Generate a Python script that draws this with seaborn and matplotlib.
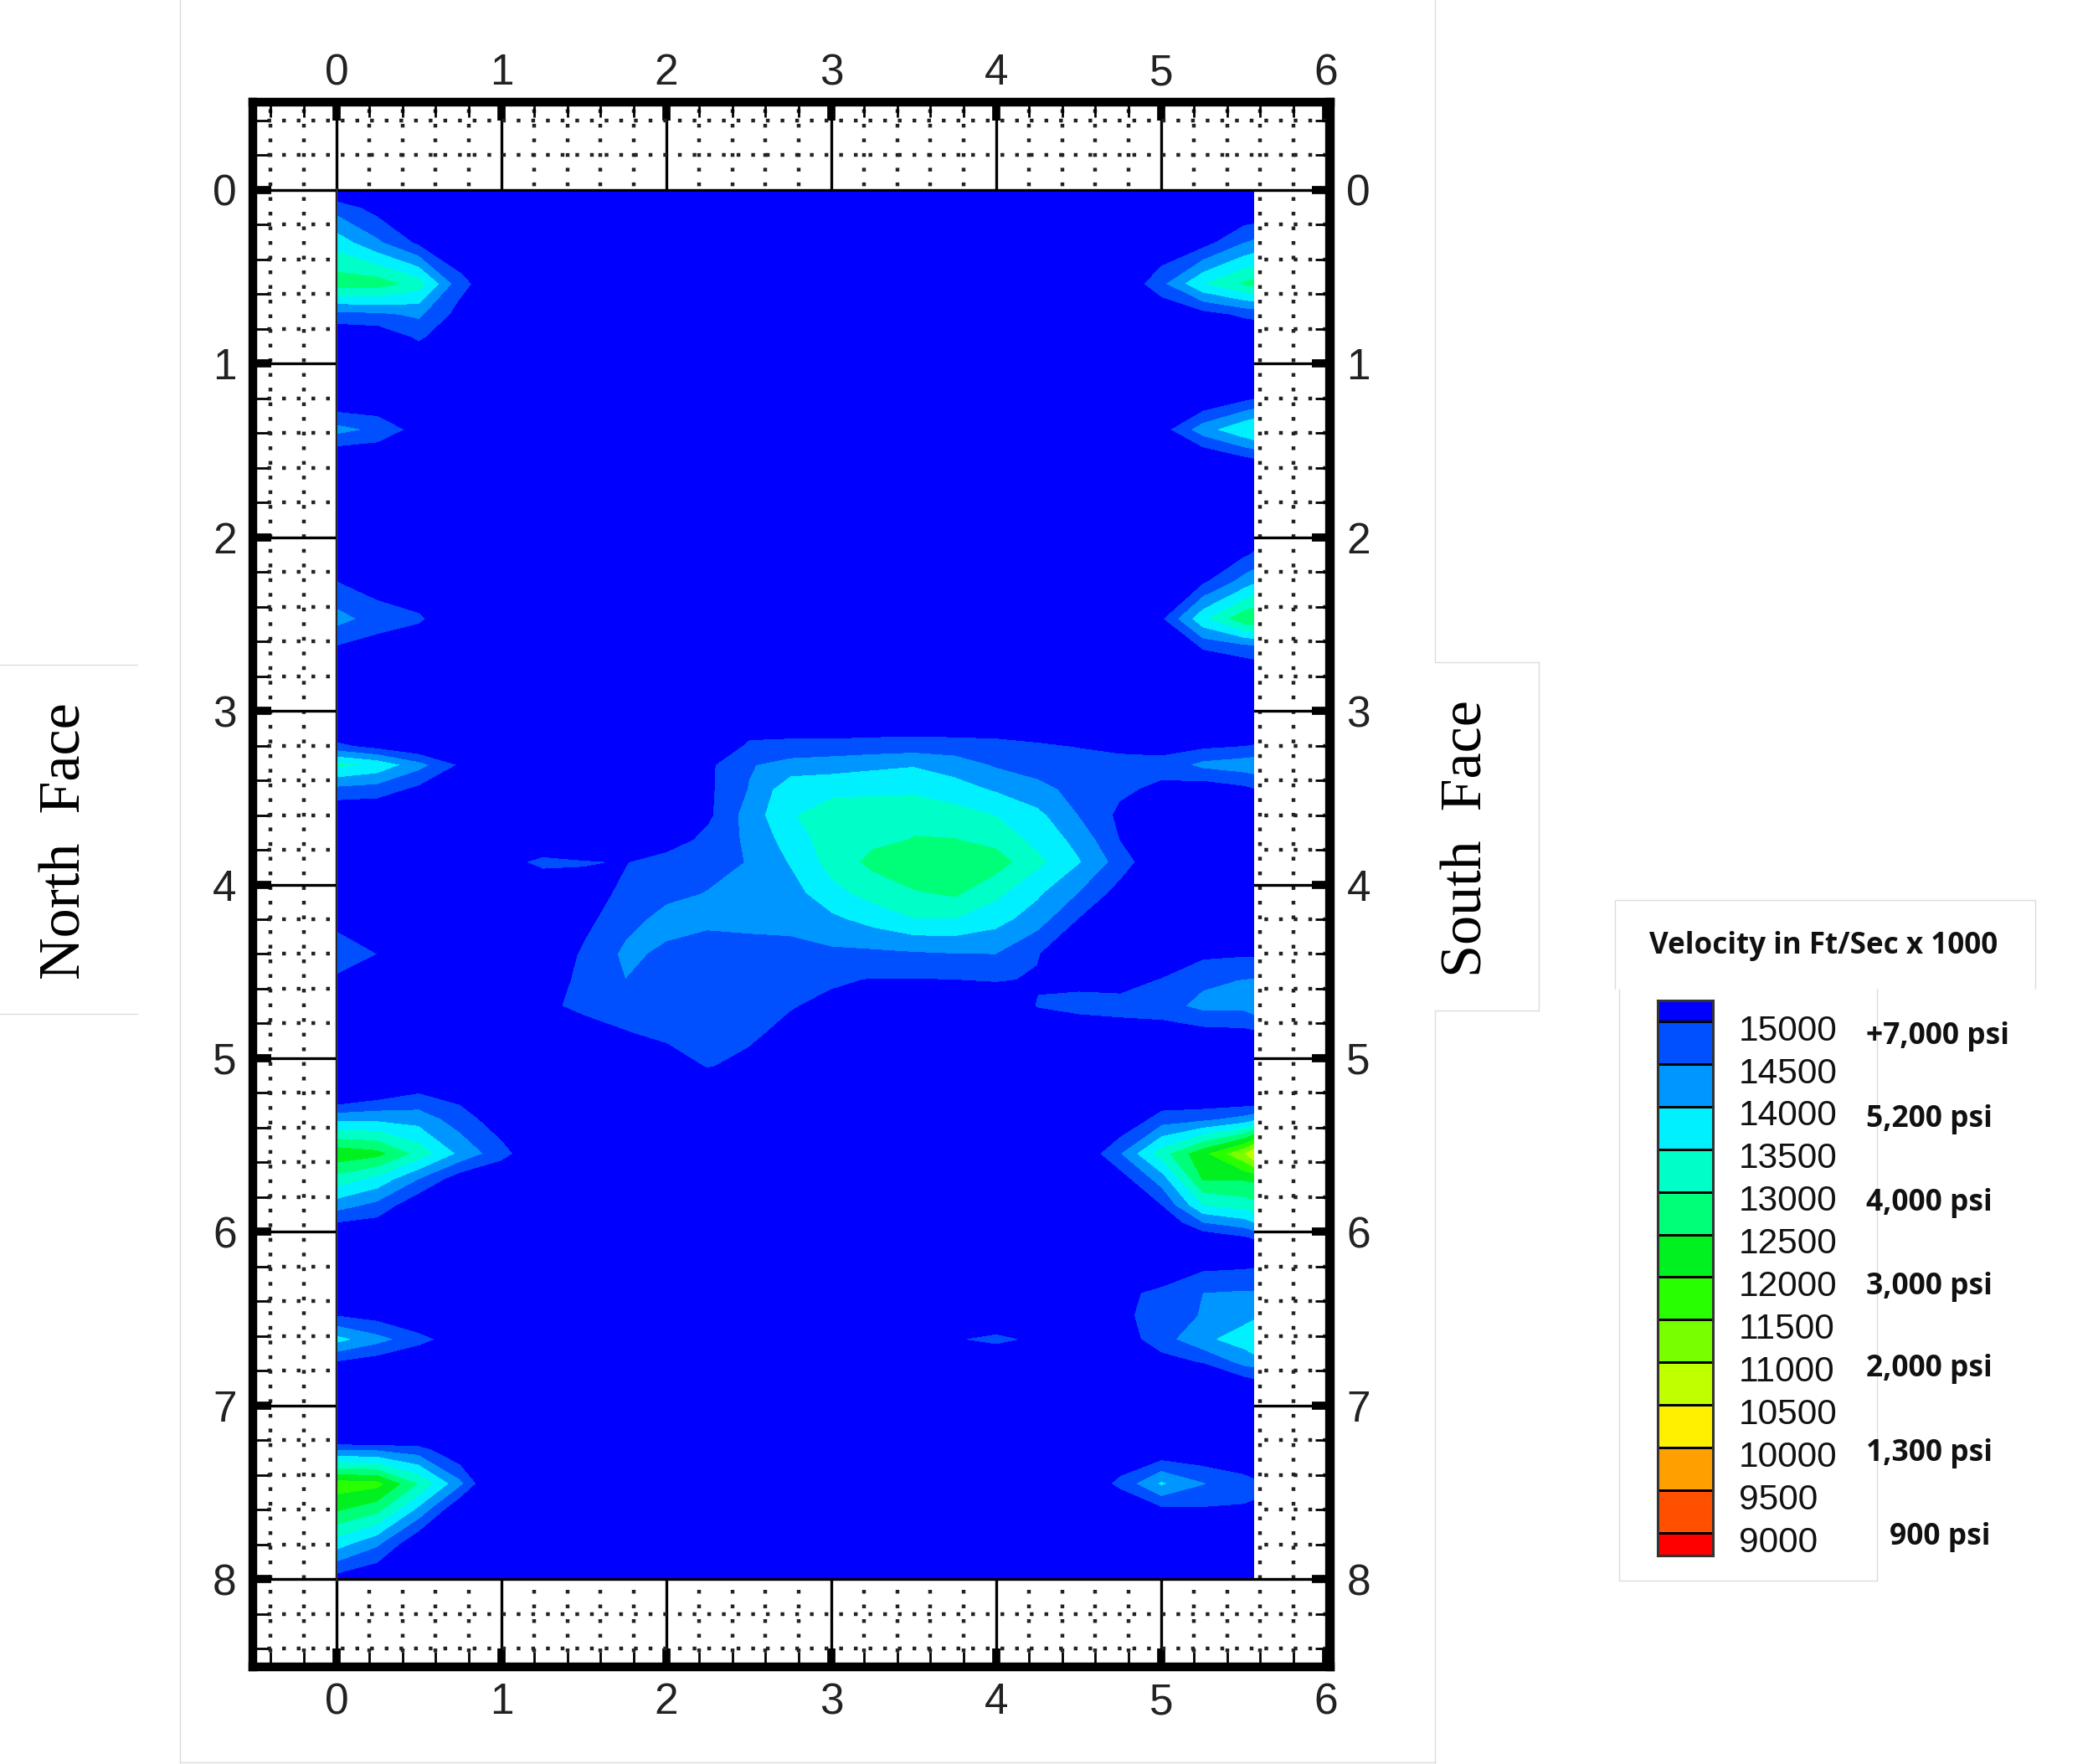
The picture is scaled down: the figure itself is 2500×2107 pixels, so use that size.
from __future__ import annotations

import matplotlib

matplotlib.use("Agg")
import matplotlib.pyplot as plt
import numpy as np
import seaborn as sns
from matplotlib.colors import ListedColormap
from matplotlib.lines import Line2D
from matplotlib.ticker import MultipleLocator
from matplotlib.transforms import ScaledTranslation

# survey grid, feet along the wall and feet up the wall
WALL_X = [0, 0.25, 0.5, 0.75, 1.0, 1.25, 1.5, 1.75, 2.0, 2.25, 2.5, 2.75, 3.0, 3.25,
          3.5, 3.75, 4.0, 4.25, 4.5, 4.75, 5.0, 5.25, 5.5, 5.56]
WALL_Y = [0, 0.1, 0.3, 0.54, 0.72, 0.85, 1.0, 1.2, 1.38, 1.55, 1.8, 2.1, 2.25, 2.47, 2.65,
          2.85, 3.1, 3.2, 3.31, 3.45, 3.6, 3.74, 3.87, 4.05, 4.2, 4.4, 4.55, 4.7, 4.85, 5.05,
          5.2, 5.35, 5.55, 5.7, 5.85, 5.95, 6.05, 6.2, 6.35, 6.48, 6.62, 6.75, 6.85, 7.1,
          7.25, 7.45, 7.6, 7.8, 8.0]

# velocity readings in hundreds of ft/sec, one row per WALL_Y value
B = 155
VELOCITY = [
    [B, B, B, B, B, B,  B, B, B, B, B, B, B, B, B, B, B, B,  B, B, B, B, B, B],
    [147, 152, B, B, B, B,  B, B, B, B, B, B, B, B, B, B, B, B,  B, B, B, B, B, B],
    [137, 144, 151, B, B, B,  B, B, B, B, B, B, B, B, B, B, B, B,  B, B, B, 152, 145, 144],
    [127, 127, 132, 148, B, B,  B, B, B, B, B, B, B, B, B, B, B, B,  B, B, 146, 135, 129, 128],
    [146.5, 146, 144, 152, B, B,  B, B, B, B, B, B, B, B, B, B, B, B,  B, B, B, 152, 149, 148.5],
    [B, 154, 149, B, B, B,  B, B, B, B, B, B, B, B, B, B, B, B,  B, B, B, B, B, B],
    [B, B, B, B, B, B,  B, B, B, B, B, B, B, B, B, B, B, B,  B, B, B, B, B, B],
    [B, B, B, B, B, B,  B, B, B, B, B, B, B, B, B, B, B, B,  B, B, B, B, 151, 150],
    [143, 146, 152, B, B, B,  B, B, B, B, B, B, B, B, B, B, B, B,  B, B, 152, 142, 135.5, 134],
    [B, B, B, B, B, B,  B, B, B, B, B, B, B, B, B, B, B, B,  B, B, B, B, 151, 150],
    [B, B, B, B, B, B,  B, B, B, B, B, B, B, B, B, B, B, B,  B, B, B, B, B, B],
    [B, B, B, B, B, B,  B, B, B, B, B, B, B, B, B, B, B, B,  B, B, B, B, 150.5, 149.5],
    [150, 153, B, B, B, B,  B, B, B, B, B, B, B, B, B, B, B, B,  B, B, B, 151, 143, 141],
    [143, 147, 149, B, B, B,  B, B, B, B, B, B, B, B, B, B, B, B,  B, B, 150.5, 136, 126, 125],
    [151, 153, B, B, B, B,  B, B, B, B, B, B, B, B, B, B, B, B,  B, B, B, 150, 148.5, 148],
    [B, B, B, B, B, B,  B, B, B, B, B, B, B, B, B, B, B, B,  B, B, B, B, B, B],
    [B, B, B, B, B, B,  B, B, B, B, 152, 152, 152, 152, 152, 152, 152, 152,  B, B, B, B, B, B],
    [148.5, 152, B, B, B, B,  B, B, B, B, 149, 148.5, 148.5, 148, 147.5, 148, 148.5, 149.5,  150.2, 151, 152, 151, 150, 149.5],
    [133, 136, 143, 150.5, B, B,  B, B, B, 151, 145.4, 143, 142, 141, 140.3, 142, 145.5, 147,  148, 148.5, 148, 143.5, 142, 141.5],
    [146, 147, 151, B, B, B,  B, B, B, 151, 144.7, 136.5, 136.5, 136.3, 136, 138, 140.5, 143.5,  146.5, 149, 151, 153, 151, 150],
    [B, B, B, B, B, B,  B, B, B, 151, 142.7, 135.5, 132, 131, 131, 132.5, 135, 138.5,  145, 151, B, B, B, B],
    [B, B, B, B, B, B,  B, B, 153, 148.3, 144, 137.5, 132.5, 131, 129.8, 129.8, 131.5, 136.5,  141.5, 150, B, B, B, B],
    [B, B, B, B, 152, 148.5,  149.6, 150.2, 147.5, 146.3, 144.8, 139.5, 133, 128.5, 126, 125.5, 127.5, 133.5,  139.5, 147, B, B, B, B],
    [B, B, B, B, B, B,  152, 149, 146, 144.8, 144.3, 142, 136.5, 133, 130.4, 129, 133.6, 139,  145, 152, B, B, B, B],
    [152, B, B, B, B, B,  151.5, 146.5, 143.5, 144, 143.5, 143.5, 141, 138, 135, 135, 138, 142.5,  150, B, B, B, B, B],
    [146, 150, B, B, B, B,  149, 144, 145.8, 147, 147, 146.5, 146, 146, 145.5, 145, 144.9, 149.6,  B, B, B, 151, 150.5, 150.5],
    [151, B, B, B, B, 153,  148.5, 145, 148, 148, 148, 148.5, 149.4, 150.2, 150.2, 150, 149.5, 150.5,  151.5, 152.5, 149.5, 146, 144.8, 144.5],
    [B, B, B, B, B, 151,  148.8, 148.5, 148.5, 148.5, 149, 149.7, 151, 153, B, B, B, 149.6,  148, 147.5, 147, 143.5, 143.5, 142],
    [B, B, B, B, B, B,  152, 150.1, 149, 148.5, 149.2, 151, B, B, B, B, B, B,  154, 153, 152.5, 151.5, 151, 150.5],
    [B, B, B, B, B, B,  B, B, 152, 149.8, 151, B, B, B, B, B, B, B,  B, B, B, B, B, B],
    [157, 153, 150, 152, B, B,  B, B, B, B, B, B, B, B, B, B, B, B,  B, B, B, 156, 157, 159],
    [141, 141, 142, 147.5, 153, B,  B, B, B, B, B, B, B, B, B, B, B, B,  B, B, 147.5, 146, 143, 141],
    [121, 123, 131.5, 141, 148, B,  B, B, B, B, B, B, B, B, B, B, B, B,  B, 145, 132, 121, 110, 104],
    [132, 136.5, 145, 153, B, B,  B, B, B, B, B, B, B, B, B, B, B, B,  B, 152.5, 142.5, 124.5, 124.5, 124],
    [142.5, 146.5, 154, B, B, B,  B, B, B, B, B, B, B, B, B, B, B, B,  B, B, 150, 135, 132.5, 131.5],
    [150, 151.5, B, B, B, B,  B, B, B, B, B, B, B, B, B, B, B, B,  B, B, B, 145, 142, 140],
    [B, B, B, B, B, B,  B, B, B, B, B, B, B, B, B, B, B, B,  B, B, B, B, 152, 150.5],
    [B, B, B, B, B, B,  B, B, B, B, B, B, B, B, B, B, B, B,  B, B, B, 151, 150.5, 150.2],
    [B, B, B, B, B, B,  B, B, B, B, B, B, B, B, B, B, B, B,  B, 151.5, 148.5, 145, 144.5, 144.5],
    [150, 152, B, B, B, B,  B, B, B, B, B, B, B, B, B, B, B, B,  B, 151.5, 147, 144.7, 141.5, 141],
    [138, 143, 148, 153, B, B,  B, B, B, B, B, B, B, B, B, 150.3, 148.5, 151,  B, 153, 147, 141, 137.5, 134.5],
    [150, 152.5, B, B, B, B,  B, B, B, B, B, B, B, B, B, B, B, B,  B, B, 152, 149.5, 143, 142.5],
    [B, B, B, B, B, B,  B, B, B, B, B, B, B, B, B, B, B, B,  B, B, B, B, 151, 150],
    [170, 170, 165, B, B, B,  B, B, B, B, B, B, B, B, B, B, B, B,  B, B, B, B, B, B],
    [145.5, 146, 148, B, B, B,  B, B, B, B, B, B, B, B, B, B, B, B,  B, B, B, B, B, B],
    [117, 118, 130, 143.5, 160, B,  B, B, B, B, B, B, B, B, B, B, B, B,  B, 148.5, 139, 144.5, 148, 149],
    [124, 128, 141, B, B, B,  B, B, B, B, B, B, B, B, B, B, B, B,  B, B, 151, 150.5, 150.5, 150.5],
    [137.5, 144, B, B, B, B,  B, B, B, B, B, B, B, B, B, B, B, B,  B, B, B, B, B, B],
    [152, B, B, B, B, B,  B, B, B, B, B, B, B, B, B, B, B, B,  B, B, B, B, B, B],
]

BAND_LABELS = ["15000", "14500", "14000", "13500", "13000", "12500", "12000",
               "11500", "11000", "10500", "10000", "9500", "9000"]
BAND_COLORS = ["#ff0000", "#ff5000", "#ffa000", "#fff000", "#c0ff00", "#78ff00", "#28ff00",
               "#00f020", "#00ff78", "#00ffc8", "#00f0ff", "#0096ff", "#0050ff", "#0000ff"]
PSI_LABELS = ["+7,000 psi", "5,200 psi", "4,000 psi", "3,000 psi", "2,000 psi", "1,300 psi", "900 psi"]
AXIS_TICKS_X = [0, 1, 2, 3, 4, 5, 6]
AXIS_TICKS_Y = [0, 1, 2, 3, 4, 5, 6, 7, 8]

W, H = 2500, 2107


def fx(px):
    return px / W


def fy(py):
    return 1 - py / H


def faint(x0, y0, x1, y1):
    fig.add_artist(Line2D([fx(x0), fx(x1)], [fy(y0), fy(y1)], color="#dcdcdc", lw=1.0, zorder=-1))


sns.set_theme(style="white")
plt.rcParams["font.family"] = ["Liberation Sans", "DejaVu Sans"]

fig = plt.figure(figsize=(W / 100, H / 100), dpi=100, facecolor="white")

# main contour panel
ax = fig.add_axes([fx(302), fy(1991), fx(1589 - 302), (1991 - 122) / H])
levels = [0] + [int(v) for v in BAND_LABELS[::-1]] + [30000]
ax.contourf(WALL_X, WALL_Y, np.array(VELOCITY) * 100, levels=levels, colors=BAND_COLORS, zorder=1)
ax.set_xlim(-0.508, 6.025)
ax.set_ylim(8.506, -0.506)

ax.set_xticks(AXIS_TICKS_X)
ax.set_yticks(AXIS_TICKS_Y)
ax.xaxis.set_minor_locator(MultipleLocator(0.2))
ax.yaxis.set_minor_locator(MultipleLocator(0.2))
ax.set_axisbelow(True)
ax.grid(which="major", color="black", lw=2.4, ls="-")
ax.grid(which="minor", color="#222222", lw=3.2, ls=(0, (1, 2.94)))
for y_edge in (0, 8):
    ax.axhline(y_edge, color="black", lw=2.2, zorder=2)
ax.axvline(0, color="#444444", lw=1.0, ymin=0.055, ymax=0.945, zorder=2)

ax.tick_params(which="major", direction="in", top=True, right=True, bottom=True, left=True,
               length=16, width=7, color="black", labelsize=37, labelcolor="#222222",
               labeltop=True, labelright=True)
ax.tick_params(axis="x", which="major", pad=13)
ax.tick_params(axis="y", which="major", pad=14)
ax.tick_params(which="minor", direction="in", top=True, right=True, bottom=True, left=True,
               length=13, width=2, color="black")
# top numbers sit closer to the frame than the bottom ones
nudge = ScaledTranslation(0, -6 / 72, fig.dpi_scale_trans)
for tick in ax.xaxis.get_major_ticks():
    tick.label2.set_transform(tick.label2.get_transform() + nudge)
for spine in ax.spines.values():
    spine.set_visible(True)
    spine.set_linewidth(7.5)
    spine.set_color("black")

# legend panel, the end bands are cut by the limits
leg = fig.add_axes([fx(1980), fy(1858), fx(2046 - 1980), (1858 - 1195) / H])
sns.heatmap(np.arange(len(BAND_COLORS))[::-1].reshape(-1, 1), cmap=ListedColormap(BAND_COLORS),
            cbar=False, linewidths=1.8, linecolor="black", ax=leg, xticklabels=False)
leg.set_ylim(13.53, 0.51)
leg.set_xlim(0, 1)
leg.set_yticks(np.arange(1, len(BAND_LABELS) + 1) + 0.14)
leg.set_yticklabels(BAND_LABELS, rotation=0, fontsize=30.5, color="#111111")
leg.tick_params(axis="y", left=False, right=False, labelleft=False, labelright=True, pad=16)
for spine in leg.spines.values():
    spine.set_visible(True)
    spine.set_linewidth(2.2)
    spine.set_color("#333333")

psi_rows = [1.36, 3.30, 5.26, 7.23, 9.16, 11.14, 13.09]
psi_x = [3.77, 3.77, 3.77, 3.77, 3.77, 3.77, 4.2]
for label, row, frac in zip(PSI_LABELS, psi_rows, psi_x):
    leg.text(frac, row, label, transform=leg.get_yaxis_transform(), fontsize=25.5, fontweight="bold",
             family=["Open Sans", "DejaVu Sans"], color="#111111", ha="left", va="center", clip_on=False)

fig.text(fx(2178), fy(1130), "Velocity in Ft/Sec x 1000", fontsize=25.2, fontweight="bold",
         family=["Open Sans", "DejaVu Sans"], color="#111111", ha="center", va="center")

for label, px, py in [("North  Face", 79, 1005), ("South  Face", 1753, 1002)]:
    fig.text(fx(px), fy(py), label, rotation=90, fontsize=50.5, family=["Liberation Serif", "DejaVu Serif"],
             color="black", ha="center", va="center")

# thin pasted-box edges around the chart and the labels
faint(215, 0, 215, 2106)
faint(1714, 0, 1714, 791)
faint(1714, 1207, 1714, 2106)
faint(215, 2105, 1714, 2105)
faint(0, 794, 164, 794)
faint(0, 1211, 164, 1211)
faint(1714, 791, 1838, 791)
faint(1838, 791, 1838, 1207)
faint(1714, 1207, 1838, 1207)
faint(1929, 1075, 2431, 1075)
faint(1929, 1075, 1929, 1181)
faint(2431, 1075, 2431, 1181)
faint(1934, 1181, 1934, 1888)
faint(2242, 1181, 2242, 1888)
faint(1934, 1888, 2242, 1888)

fig.savefig("out.png", dpi=100, facecolor="white")
